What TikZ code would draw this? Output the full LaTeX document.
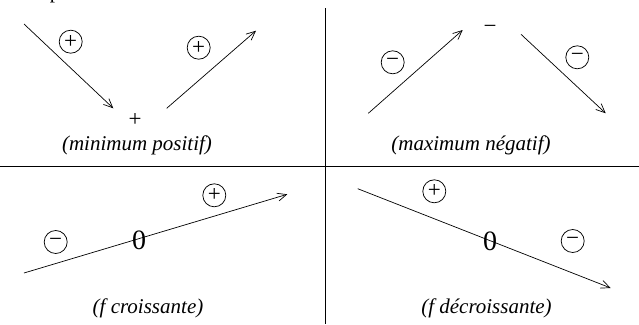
\documentclass[tikz,border=0pt]{standalone}
\usepackage{fontspec}
\setmainfont{Liberation Serif}
\usetikzlibrary{arrows.meta}
\begin{document}
\begin{tikzpicture}[x=1pt,y=-1pt,
  sign/.style={draw,circle,line width=0.75pt,minimum size=23pt,inner sep=0pt,font=\fontsize{23}{23}\selectfont},
  lbl/.style={font=\fontsize{21}{25}\selectfont\itshape,inner sep=0pt},
  val/.style={font=\fontsize{23}{23}\selectfont,inner sep=0pt},
  zero/.style={font=\fontsize{28}{28}\selectfont,inner sep=0pt},
  arr/.style={line width=0.7pt,-{Straight Barb[length=9pt,width=8pt]}},
  sep/.style={line width=0.8pt}]
\useasboundingbox (0,0) rectangle (639,324);
% separators
\coordinate (vt) at (325,8);
\coordinate (vb) at (325,324);
\coordinate (hl) at (0,166.5);
\coordinate (hr) at (639,166.5);
\draw[sep] (vt) -- (vb);
\draw[sep] (hl) -- (hr);
% cut-off text at top
\node[font=\fontsize{21}{21}\selectfont,inner sep=0pt,anchor=base] (cut) at (55,-1.5) {p};
% Quadrant 1: minimum positif
\coordinate (a1s) at (24,24);
\coordinate (a1e) at (113.3,108.3);
\coordinate (a2s) at (166.7,108.3);
\coordinate (a2e) at (256,30.7);
\draw[arr] (a1s) -- (a1e);
\draw[arr] (a2s) -- (a2e);
\node[sign] (s1) at (70.7,41.7) {+};
\node[sign] (s2) at (198.7,47.7) {+};
\node[val] (m1) at (135,120) {+};
\node[lbl] (l1) at (137,145.5) {(minimum positif)};
% Quadrant 2: maximum negatif
\coordinate (b1s) at (368.3,113.3);
\coordinate (b1e) at (462.7,30);
\coordinate (b2s) at (521,34.3);
\coordinate (b2e) at (605.7,113.3);
\draw[arr] (b1s) -- (b1e);
\draw[arr] (b2s) -- (b2e);
\node[sign] (s3) at (392.7,62.3) {−};
\node[sign] (s4) at (577.3,57.3) {−};
\node[val] (m2) at (490,29.3) {−};
\node[lbl] (l2) at (471,145.5) {(maximum négatif)};
% Quadrant 3: f croissante
\node[zero] (z1) at (139,240) {0};
\coordinate (c1s) at (24,273);
\coordinate (c1e) at (287.3,194.3);
\draw[arr] (c1s) -- (c1e);
\node[sign] (s5) at (214.3,195.3) {+};
\node[sign] (s6) at (55.7,242) {−};
\node[lbl] (l3) at (148,308.5) {(f croissante)};
% Quadrant 4: f decroissante
\node[zero] (z2) at (490,241) {0};
\coordinate (d1s) at (357.7,188.7);
\coordinate (d1e) at (610.7,288);
\draw[arr] (d1s) -- (d1e);
\node[sign] (s7) at (434.3,191.3) {+};
\node[sign] (s8) at (572.7,241) {−};
\node[lbl] (l4) at (486.5,308.5) {(f décroissante)};
\end{tikzpicture}
\end{document}
